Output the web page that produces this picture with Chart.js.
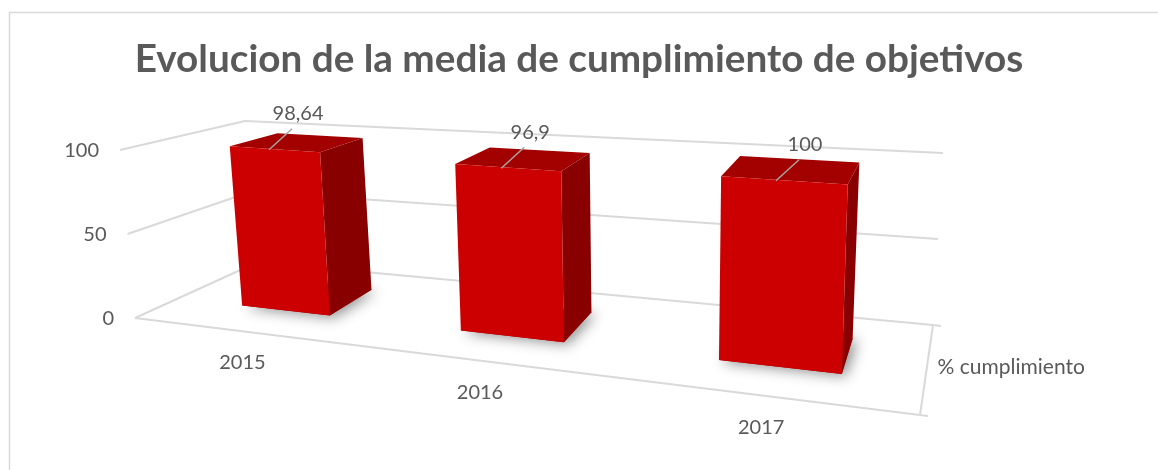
<!DOCTYPE html>
<html>
<head>
<meta charset="utf-8">
<script src="https://cdn.jsdelivr.net/npm/chart.js@4.4.1/dist/chart.umd.min.js"></script>
<style>
  html, body { margin: 0; padding: 0; background: #fff; }
  #wrap { position: relative; width: 1158px; height: 470px; }
</style>
</head>
<body>
<div id="wrap"><canvas id="chart" width="1158" height="470"></canvas></div>
<script>
// datos del grafico
const years = ['2015', '2016', '2017'];
const cumplimiento = [98.64, 96.9, 100];
const yTicks = [0, 50, 100];
const seriesName = '% cumplimiento';
const chartTitle = 'Evolucion de la media de cumplimiento de objetivos';

// estilo
const TEXT = '#595959';
const GRID = '#d9d9d9';
const FONT = 'Lato, "Open Sans", sans-serif';

// esquinas de la "caja" 3D en pantalla (u: izq->der, v: abajo->arriba, w: fondo->frente)
const box = {
    bbl: [258, 262], btl: [245, 121], bbr: [933, 325], btr: [943, 153],
    fbl: [135, 318], ftl: [120, 150], fbr: [920, 415], ftr: [928, 210]
};
const barBack = 0.25, barFront = 0.66, barShift = 8;

function lerp(a, b, t) { return [a[0] + (b[0] - a[0]) * t, a[1] + (b[1] - a[1]) * t]; }
function warp(u) { const c = -0.224; return u * (1 + c) / (1 + c * u); } // perspectiva horizontal
function proj(u, v, w) {
    const uu = warp(u);
    const back = lerp(lerp(box.bbl, box.bbr, uu), lerp(box.btl, box.btr, uu), v);
    const front = lerp(lerp(box.fbl, box.fbr, uu), lerp(box.ftl, box.ftr, uu), v);
    return lerp(back, front, w);
}
function bproj(u, v, w) { const p = proj(u, v, w); return [p[0] + barShift, p[1]]; }
function poly(ctx, pts, fill) {
    ctx.beginPath();
    ctx.moveTo(pts[0][0], pts[0][1]);
    for (let i = 1; i < pts.length; i++) ctx.lineTo(pts[i][0], pts[i][1]);
    ctx.closePath();
    ctx.fillStyle = fill;
    ctx.fill();
}
function line(ctx, a, b) {
    ctx.beginPath();
    ctx.moveTo(a[0], a[1]);
    ctx.lineTo(b[0], b[1]);
    ctx.stroke();
}
function fmt(n) { return String(n).replace('.', ','); }

const chart3d = {
    id: 'chart3d',
    beforeDraw(chart) {
        const ctx = chart.ctx;
        const area = chart.chartArea;
        const ys = chart.scales.y;
        ctx.save();
        // marco
        ctx.strokeStyle = GRID;
        ctx.lineWidth = 1.5;
        ctx.strokeRect(9.5, 12.5, 1400, 800);

        // lineas de division (pared lateral + fondo)
        ctx.strokeStyle = GRID;
        ctx.lineWidth = 2;
        ctx.font = '20px ' + FONT;
        ctx.fillStyle = TEXT;
        ctx.textAlign = 'right';
        ctx.textBaseline = 'middle';
        yTicks.forEach(t => {
            const v = (area.bottom - ys.getPixelForValue(t)) / area.height;
            line(ctx, proj(0, v, 1), proj(0, v, 0));
            line(ctx, proj(0, v, 0), proj(1, v, 0));
            const p = proj(0, v, 1);
            ctx.fillText(String(t), p[0] - 21, p[1] + 1);
        });
        // suelo
        line(ctx, proj(0, 0, 1), proj(1, 0, 1));
        line(ctx, proj(1, 0, 0), proj(1, 0, 1));
        const r0 = proj(1, 0, 0), r1 = proj(1, 0, 1);
        line(ctx, r0, [r0[0] + 8, r0[1] + 1]);
        line(ctx, r1, [r1[0] + 8, r1[1] + 1]);

        // etiqueta de la serie
        ctx.textAlign = 'left';
        ctx.font = '21px ' + FONT;
        const pm = proj(1, 0, 0.5);
        ctx.fillText(seriesName, pm[0] + 11, pm[1] - 3);

        // etiquetas de categoria
        ctx.font = '20px ' + FONT;
        ctx.textAlign = 'center';
        const xs = chart.scales.x;
        years.forEach((y, i) => {
            const u = (xs.getPixelForValue(i) - area.left) / area.width;
            const p = proj(u, 0, 1);
            ctx.fillText(y, p[0] + 2, p[1] + 32);
        });
        ctx.restore();
    },
    afterDatasetsDraw(chart) {
        const ctx = chart.ctx;
        const area = chart.chartArea;
        const meta = chart.getDatasetMeta(0);
        ctx.save();
        meta.data.forEach((bar, i) => {
            const u0 = (bar.x - bar.width / 2 - area.left) / area.width;
            const u1 = (bar.x + bar.width / 2 - area.left) / area.width;
            const v = (area.bottom - bar.y) / area.height;
            const w0 = barBack, w1 = barFront;
            // sombra
            ctx.save();
            ctx.shadowColor = 'rgba(0,0,0,0.45)';
            ctx.shadowBlur = 14;
            ctx.shadowOffsetX = 4;
            ctx.shadowOffsetY = 2;
            poly(ctx, [bproj(u0, 0, w1), bproj(u1, 0, w1), bproj(u1, 0, w0), bproj(u0, 0, w0)], '#b00000');
            ctx.restore();
            // cara lateral
            poly(ctx, [bproj(u1, 0, w1), bproj(u1, 0, w0), bproj(u1, v, w0), bproj(u1, v, w1)], '#880000');
            // cara superior
            poly(ctx, [bproj(u0, v, w1), bproj(u1, v, w1), bproj(u1, v, w0), bproj(u0, v, w0)], '#a30000');
            // cara frontal
            poly(ctx, [bproj(u0, 0, w1), bproj(u1, 0, w1), bproj(u1, v, w1), bproj(u0, v, w1)], '#cc0000');

            // etiqueta de datos con linea guia
            const s = bproj((u0 + u1) / 2 - 0.008, v, w1);
            ctx.strokeStyle = '#a6a6a6';
            ctx.lineWidth = 1.5;
            line(ctx, [s[0], s[1] + 1], [s[0] + 23, s[1] - 20]);
            ctx.font = '20px ' + FONT;
            ctx.fillStyle = TEXT;
            ctx.textAlign = 'center';
            ctx.textBaseline = 'middle';
            ctx.fillText(fmt(cumplimiento[i]), s[0] + 29, s[1] - 35);
        });
        ctx.restore();
    }
};

new Chart(document.getElementById('chart'), {
    type: 'bar',
    data: {
        labels: years,
        datasets: [{
            label: seriesName,
            data: cumplimiento,
            backgroundColor: 'rgba(0,0,0,0)',
            borderWidth: 0,
            categoryPercentage: 1,
            barPercentage: 0.42
        }]
    },
    options: {
        responsive: false,
        animation: false,
        layout: { padding: 0 },
        scales: {
            x: { display: false },
            y: { display: false, min: 0, max: 100 }
        },
        plugins: {
            legend: { display: false },
            tooltip: { enabled: false },
            title: {
                display: true,
                text: chartTitle,
                color: TEXT,
                font: { family: FONT, size: 38.7, weight: 'bold' },
                padding: { top: 36, bottom: 10 }
            }
        }
    },
    plugins: [chart3d]
});
</script>
</body>
</html>
